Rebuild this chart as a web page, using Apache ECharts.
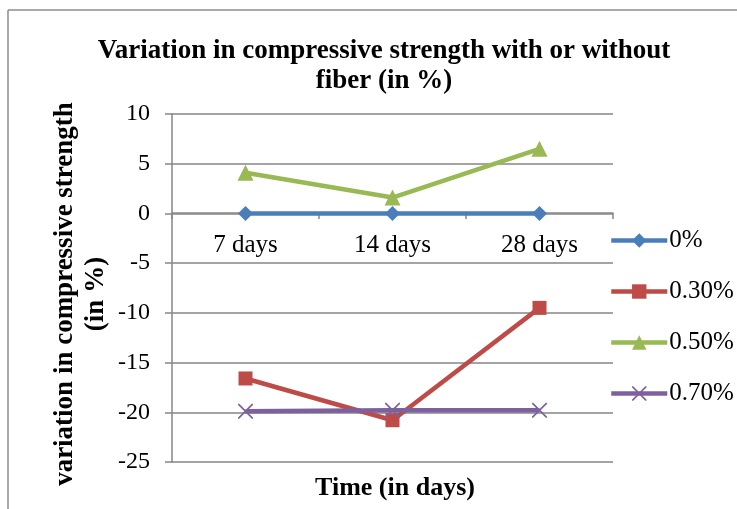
<!DOCTYPE html>
<html>
<head>
<meta charset="utf-8">
<script src="https://cdn.jsdelivr.net/npm/echarts@6/dist/echarts.min.js"></script>
<style>html,body{margin:0;padding:0;background:#fff;}#c{width:737px;height:509px;}</style>
</head>
<body>
<div id="c"></div>
<script>
var categories = ['7 days', '14 days', '28 days'];
var seriesNames = ['0%', '0.30%', '0.50%', '0.70%'];
var s0 = [0, 0, 0];
var s30 = [-16.6, -20.8, -9.5];
var s50 = [4.1, 1.6, 6.5];
var s70 = [-19.9, -19.8, -19.8];
var yTicks = [-25, -20, -15, -10, -5, 0, 5, 10];

var FONT = '"Liberation Serif", "Times New Roman", serif';
var crossPath = 'path://M0,0 L1.6,0 L10,8.4 L18.4,0 L20,0 L20,1.6 L11.6,10 L20,18.4 L20,20 L18.4,20 L10,11.6 L1.6,20 L0,20 L0,18.4 L8.4,10 L0,1.6 Z';
var colors = ['#4A7EBB', '#BE4B48', '#98B954', '#7D60A0'];
var symbols = ['diamond', 'rect', 'triangle', crossPath];
var sizes = [15, 14, 16, 15];
var data = [s0, s30, s50, s70];

var chart = echarts.init(document.getElementById('c'), null, {renderer: 'canvas'});
var series = seriesNames.map(function (n, i) {
  return {
    name: n, type: 'line', data: data[i],
    symbol: symbols[i], symbolSize: sizes[i], showSymbol: true,
    lineStyle: {width: 4.5, color: colors[i]},
    itemStyle: {color: colors[i]},
    z: i === 3 ? 5 : 3 + i * 0.1,
    animation: false
  };
});

chart.setOption({
  animation: false,
  color: colors,
  title: [{
    text: 'Variation in compressive strength with or without\nfiber (in %)',
    left: 379, top: 31, textAlign: 'center',
    textStyle: {fontFamily: FONT, fontWeight: 'bold', fontSize: 27, color: '#000', lineHeight: 30}
  }, {
    text: 'Time (in days)',
    left: 390, top: 470, textAlign: 'center',
    textStyle: {fontFamily: FONT, fontWeight: 'bold', fontSize: 26, color: '#000'}
  }],
  grid: {left: 172, right: 124, top: 114, bottom: 47, containLabel: false},
  legend: {
    orient: 'vertical', left: 604, top: 223, itemGap: 26,
    itemWidth: 56, itemHeight: 18,
    data: seriesNames,
    lineStyle: {width: 4.5},
    textStyle: {fontFamily: FONT, fontSize: 25, color: '#000', padding: [0, 0, 0, -3]}
  },
  xAxis: {
    type: 'category', data: categories, boundaryGap: true,
    position: 'bottom', offset: -249,
    axisLine: {onZero: false, lineStyle: {color: '#868686', width: 1.5}},
    axisTick: {show: true, inside: false, length: 6, alignWithLabel: false, lineStyle: {color: '#868686', width: 1.5}},
    axisLabel: {fontFamily: FONT, fontSize: 25, color: '#000', margin: 20},
    splitLine: {show: false}
  },
  yAxis: {
    type: 'value', min: -25, max: 10, interval: 5,
    axisLine: {show: true, lineStyle: {color: '#868686', width: 1.5}},
    axisTick: {show: true, length: 7, lineStyle: {color: '#868686', width: 1.5}},
    axisLabel: {fontFamily: FONT, fontSize: 24, color: '#000', margin: 22,
      formatter: function (v) { return yTicks.indexOf(v) >= 0 ? String(v) : ''; }},
    splitLine: {show: true, lineStyle: {color: '#868686', width: 1.5}}
  },
  graphic: [
    {type: 'line', shape: {x1: 8, y1: 10, x2: 737, y2: 10}, style: {stroke: '#8c8c8c', lineWidth: 1.5}},
    {type: 'line', shape: {x1: 8, y1: 10, x2: 8, y2: 509}, style: {stroke: '#8c8c8c', lineWidth: 1.5}},
    {type: 'text', x: 81, y: 294, rotation: Math.PI / 2,
      style: {text: 'variation in compressive strength\n(in %)', fontFamily: FONT, fontWeight: 'bold', fontSize: 27,
        fill: '#000', align: 'center', verticalAlign: 'middle', lineHeight: 31}}
  ],
  series: series
});
</script>
</body>
</html>
